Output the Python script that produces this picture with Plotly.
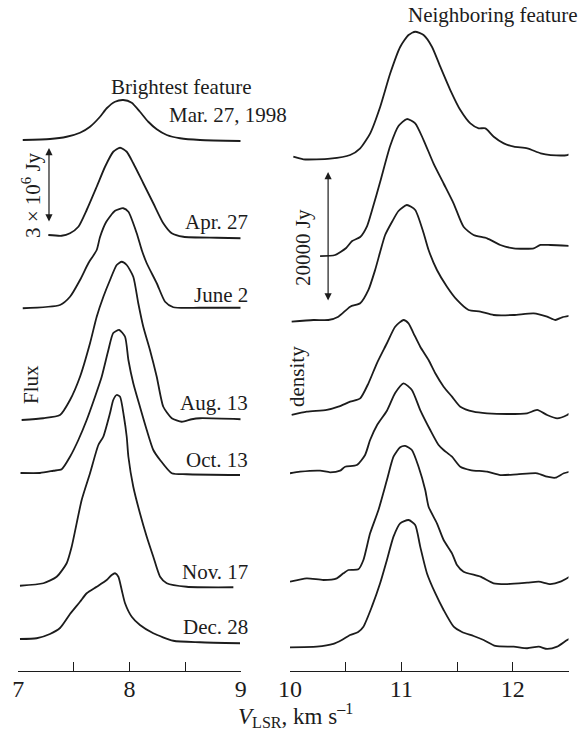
import plotly.graph_objects as go

# ---------------- Brightest feature (flux in 10^6 Jy, velocity in km/s) ----------------
bright_labels = ["Mar. 27, 1998", "Apr. 27", "June 2", "Aug. 13", "Oct. 13", "Nov. 17", "Dec. 28"]
bright_offsets = [21.24, 17.44, 14.56, 10.08, 7.92, 3.44, 1.32]  # vertical stacking, 10^6 Jy

v_b_mar27 = [7.04, 7.285, 7.435, 7.555, 7.645, 7.735, 7.795, 7.87, 7.944, 8.02, 8.094, 8.169, 8.245, 8.335, 8.455, 8.634, 9.0]
f_b_mar27 = [0, 0.04, 0.13, 0.29, 0.53, 0.93, 1.27, 1.53, 1.6, 1.49, 1.13, 0.73, 0.43, 0.2, 0.07, 0, -0.04]

v_b_apr27 = [7.27, 7.39, 7.465, 7.54, 7.615, 7.705, 7.78, 7.854, 7.915, 7.975, 8.034, 8.124, 8.214, 8.304, 8.38, 8.484, 8.784, 9.0]
f_b_apr27 = [0, -0.03, 0.07, 0.33, 1.0, 1.93, 2.73, 3.33, 3.49, 3.33, 2.87, 2.07, 1.27, 0.47, 0.07, -0.07, -0.11, -0.13]

v_b_jun02 = [7.04, 7.375, 7.465, 7.555, 7.63, 7.705, 7.735, 7.79, 7.87, 7.944, 7.99, 8.065, 8.11, 8.155, 8.245, 8.32, 8.394, 8.634, 9.0]
f_b_jun02 = [-0.05, 0.08, 0.41, 1.08, 1.75, 2.28, 2.8, 3.4, 3.85, 3.95, 3.81, 2.95, 2.28, 1.75, 0.95, 0.21, -0.01, -0.03, -0.03]

v_b_aug13 = [7.03, 7.225, 7.375, 7.465, 7.555, 7.645, 7.705, 7.765, 7.825, 7.885, 7.93, 7.975, 8.034, 8.079, 8.124, 8.184, 8.245, 8.304, 8.38, 8.47, 8.56, 8.634, 9.0]
f_b_aug13 = [-0.04, 0.03, 0.16, 0.76, 1.69, 3.03, 4.09, 4.89, 5.56, 6.16, 6.29, 6.16, 5.69, 4.63, 3.69, 2.76, 1.69, 0.49, 0.03, -0.11, -0.01, 0.03, -0.01]

v_b_oct13 = [7.02, 7.195, 7.315, 7.39, 7.465, 7.54, 7.615, 7.69, 7.75, 7.81, 7.854, 7.908, 7.96, 7.99, 8.034, 8.094, 8.155, 8.214, 8.275, 8.38, 8.514, 8.994]
f_b_oct13 = [0, 0, 0.09, 0.15, 0.65, 1.32, 2.12, 3.05, 3.85, 4.92, 5.6, 5.72, 5.45, 4.52, 3.59, 2.65, 1.72, 0.92, 0.52, -0.01, -0.05, -0.08]

v_b_nov17 = [7.015, 7.225, 7.345, 7.435, 7.48, 7.57, 7.645, 7.72, 7.764, 7.825, 7.854, 7.885, 7.915, 7.95, 7.975, 7.99, 8.034, 8.094, 8.155, 8.214, 8.275, 8.335, 8.514, 8.934]
f_b_nov17 = [-0.03, 0.07, 0.33, 0.87, 1.53, 3.4, 4.47, 5.6, 5.93, 6.88, 7.4, 7.6, 7.53, 6.73, 5.93, 5.13, 3.93, 2.87, 1.93, 1.13, 0.33, 0.07, -0.07, -0.09]

v_b_dec28 = [7.015, 7.165, 7.285, 7.375, 7.465, 7.555, 7.615, 7.705, 7.795, 7.84, 7.87, 7.9, 7.93, 7.96, 8.02, 8.094, 8.214, 8.394, 8.634, 8.994]
f_b_dec28 = [-0.04, -0.01, 0.16, 0.4, 0.96, 1.45, 1.79, 2.05, 2.32, 2.52, 2.59, 2.45, 1.92, 1.39, 0.85, 0.52, 0.19, -0.11, -0.17, -0.21]

# ---------------- Neighboring feature (flux in 10^3 Jy) ----------------
neigh_offsets = [78.92, 64.46, 54.0, 39.54, 30.77, 14.0, 3.85]  # vertical stacking, 10^3 Jy

v_n_mar27 = [10.03, 10.12, 10.36, 10.54, 10.63, 10.72, 10.81, 10.9, 10.99, 11.064, 11.124, 11.199, 11.274, 11.349, 11.439, 11.529, 11.619, 11.694, 11.754, 11.829, 11.919, 12.01, 12.13, 12.25, 12.34, 12.49, 12.56]
f_n_mar27 = [0.2, -0.2, -0.1, 0.46, 1.49, 3.8, 7.89, 13.03, 17.12, 18.92, 19.43, 18.92, 17.12, 14.05, 10.46, 7.38, 5.33, 4.57, 4.57, 3.28, 2.26, 1.74, 1.49, 0.72, 0.46, 0.46, 0.97]

v_n_apr27 = [10.27, 10.405, 10.504, 10.558, 10.63, 10.692, 10.737, 10.809, 10.899, 10.974, 11.049, 11.124, 11.199, 11.289, 11.379, 11.469, 11.558, 11.648, 11.769, 11.888, 12.008, 12.188, 12.248, 12.338, 12.548]
f_n_apr27 = [-0.62, -0.46, 0.62, 1.69, 2.31, 4.0, 6.46, 10.77, 16.31, 19.38, 20.46, 19.8, 17.23, 13.6, 10.54, 7.46, 3.88, 2.62, 2.1, 1.08, 0.57, 0.57, 1.08, 1.08, 0.92]

v_n_jun02 = [10.015, 10.21, 10.344, 10.434, 10.54, 10.63, 10.704, 10.764, 10.809, 10.854, 10.915, 10.974, 11.049, 11.124, 11.199, 11.244, 11.319, 11.409, 11.499, 11.603, 11.709, 11.828, 12.008, 12.188, 12.308, 12.383, 12.443, 12.548]
f_n_jun02 = [-0.26, 0, 0, 0.51, 2.05, 2.57, 4.62, 7.69, 10.46, 13.08, 15.08, 16.77, 17.69, 16.92, 13.38, 10.77, 7.69, 5.12, 3.08, 1.54, 1.28, 0.77, 0.77, 1.03, 0.51, 0, 0.42, 0.77]

v_n_aug13 = [10.015, 10.15, 10.33, 10.434, 10.54, 10.63, 10.704, 10.78, 10.87, 10.944, 11.019, 11.064, 11.109, 11.169, 11.244, 11.304, 11.379, 11.454, 11.529, 11.648, 11.769, 11.949, 12.129, 12.219, 12.308, 12.398, 12.488, 12.554]
f_n_aug13 = [-0.15, 0.35, 0.62, 1.12, 1.89, 2.41, 4.72, 7.8, 10.88, 13.43, 14.46, 13.95, 12.41, 10.35, 8.31, 6.26, 4.2, 2.66, 1.12, 0.35, 0.11, 0, 0.11, 0.62, -0.15, -0.66, -0.15, 0.62]

v_n_oct13 = [10.0, 10.09, 10.27, 10.36, 10.45, 10.495, 10.6, 10.674, 10.719, 10.782, 10.87, 10.944, 11.019, 11.094, 11.169, 11.259, 11.334, 11.379, 11.454, 11.529, 11.619, 11.769, 11.888, 12.039, 12.219, 12.308, 12.383, 12.458, 12.548]
f_n_oct13 = [-0.35, -0.11, 0.05, -0.2, 0.05, 0.66, 0.92, 2.46, 4.77, 7.08, 9.28, 12.0, 13.49, 12.46, 9.38, 6.31, 4.0, 3.23, 2.2, 0.66, 0.15, -0.11, -0.62, -0.51, -0.35, -0.88, -1.03, -0.35, 0.05]

v_n_nov17 = [10.0, 10.15, 10.3, 10.42, 10.479, 10.524, 10.614, 10.659, 10.719, 10.794, 10.87, 10.929, 10.989, 11.034, 11.094, 11.154, 11.214, 11.244, 11.319, 11.379, 11.454, 11.499, 11.558, 11.709, 11.828, 11.949, 12.129, 12.233, 12.338, 12.428, 12.533]
f_n_nov17 = [-0.26, 0.26, 0, 0.26, 1.03, 1.54, 1.65, 3.08, 7.18, 10.77, 15.38, 18.97, 20.41, 20.62, 20.0, 17.43, 13.85, 11.28, 8.72, 6.15, 4.1, 2.31, 1.28, 0.51, -0.51, -0.62, -0.41, -0.26, -0.62, -0.26, 0.77]

v_n_dec28 = [10.0, 10.24, 10.389, 10.465, 10.54, 10.612, 10.659, 10.735, 10.809, 10.87, 10.929, 10.989, 11.064, 11.124, 11.169, 11.229, 11.304, 11.379, 11.469, 11.544, 11.648, 11.738, 11.844, 12.008, 12.129, 12.233, 12.308, 12.398, 12.488, 12.548]
f_n_dec28 = [-0.2, -0.11, 0.31, 0.92, 1.69, 2.15, 2.97, 6.05, 9.64, 13.23, 16.82, 18.87, 19.38, 18.62, 15.28, 11.2, 8.12, 5.54, 2.97, 2.15, 1.54, 0.92, 0, -0.11, -0.35, -0.11, -0.46, -0.11, 0.92, 1.43]

bright_v = [v_b_mar27, v_b_apr27, v_b_jun02, v_b_aug13, v_b_oct13, v_b_nov17, v_b_dec28]
bright_f = [f_b_mar27, f_b_apr27, f_b_jun02, f_b_aug13, f_b_oct13, f_b_nov17, f_b_dec28]
neigh_v = [v_n_mar27, v_n_apr27, v_n_jun02, v_n_aug13, v_n_oct13, v_n_nov17, v_n_dec28]
neigh_f = [f_n_mar27, f_n_apr27, f_n_jun02, f_n_aug13, f_n_oct13, f_n_nov17, f_n_dec28]

# Scale bars: (velocity, top, length)
bright_bar = (7.276, 20.92, 3.0)     # 3 x 10^6 Jy
neigh_bar = (10.342, 76.77, 20.0)    # 20000 Jy

W, H = 586, 734
MB = 63
PH = H - MB
FONT = "Liberation Serif, Times New Roman, serif"
INK = "#1c1c1c"

fig = go.Figure()
line = dict(color=INK, width=1.8, shape="spline", smoothing=0.6)

for v, f, off in zip(bright_v, bright_f, bright_offsets):
    fig.add_trace(go.Scatter(x=v, y=[off + val for val in f], mode="lines",
                             line=line, xaxis="x", yaxis="y", hoverinfo="skip"))
for v, f, off in zip(neigh_v, neigh_f, neigh_offsets):
    fig.add_trace(go.Scatter(x=v, y=[off + val for val in f], mode="lines",
                             line=line, xaxis="x2", yaxis="y2", hoverinfo="skip"))

axis_common = dict(showline=True, linecolor=INK, linewidth=1.4, ticks="inside",
                   ticklen=9, tickwidth=1.4, tickcolor=INK, showgrid=False,
                   zeroline=False, tickfont=dict(family=FONT, size=24, color=INK),
                   ticklabelstandoff=-4, fixedrange=True, automargin=False)

fig.update_layout(
    width=W, height=H,
    margin=dict(l=0, r=0, t=0, b=MB, autoexpand=False),
    paper_bgcolor="white", plot_bgcolor="white",
    showlegend=False,
    xaxis=dict(domain=[18.3 / W, 240.7 / W], range=[7, 9],
               tickvals=[7, 7.5, 8, 8.5, 9], ticktext=["7", "", "8", "", "9"],
               anchor="y", **axis_common),
    xaxis2=dict(domain=[290 / W, 568.5 / W], range=[10, 12.5],
                tickvals=[10, 10.5, 11, 11.5, 12, 12.5], ticktext=["10", "", "11", "", "12", ""],
                anchor="y2", **axis_common),
    yaxis=dict(domain=[0, 1], range=[0, PH / 25.0], visible=False, fixedrange=True,
               automargin=False),
    yaxis2=dict(domain=[0, 1], range=[0, PH / 6.5], visible=False, fixedrange=True,
                anchor="x2", automargin=False),
)


def px(x):
    return x / W


def py(y):
    return (PH - y) / PH


text_font = dict(family=FONT, size=21, color=INK)


def label(x, y, text, xanchor="center", angle=0, font=text_font):
    fig.add_annotation(x=px(x), y=py(y), xref="paper", yref="paper", text=text,
                       showarrow=False, xanchor=xanchor, yanchor="middle",
                       textangle=angle, font=font)


# Date labels next to the brightest-feature profiles
label_pos = [(289, 115), (250, 222), (250, 295), (250, 403), (250, 460), (250, 572), (250, 627)]
for lab, (lx, ly) in zip(bright_labels, label_pos):
    label(lx, ly, lab, xanchor="right")

label(181, 87, "Brightest feature")
label(493, 15, "Neighboring feature")

# Vertical axis captions
label(31, 385, "Flux", angle=-90)
label(297, 377, "density", angle=-90)

# Scale bars
bx, btop, blen = bright_bar
fig.add_annotation(x=bx, y=btop, ax=bx, ay=btop - blen, xref="x", yref="y",
                   axref="x", ayref="y", text="", showarrow=True, arrowside="end+start",
                   arrowhead=2, arrowsize=1.2, arrowwidth=1.2, arrowcolor=INK,
                   standoff=0, startstandoff=0)
label(32, 195, "3 × 10<sup>6</sup> Jy", angle=-90)

nx, ntop, nlen = neigh_bar
fig.add_annotation(x=nx, y=ntop, ax=nx, ay=ntop - nlen, xref="x2", yref="y2",
                   axref="x2", ayref="y2", text="", showarrow=True, arrowside="end+start",
                   arrowhead=2, arrowsize=1.2, arrowwidth=1.2, arrowcolor=INK,
                   standoff=0, startstandoff=0)
label(303, 248, "20000 Jy", angle=-90)

# Shared velocity axis title
label(295, 715, "<i>V</i><sub>LSR</sub>, km s<sup>–1</sup>",
      font=dict(family=FONT, size=23, color=INK))

fig.write_html("out.html")
